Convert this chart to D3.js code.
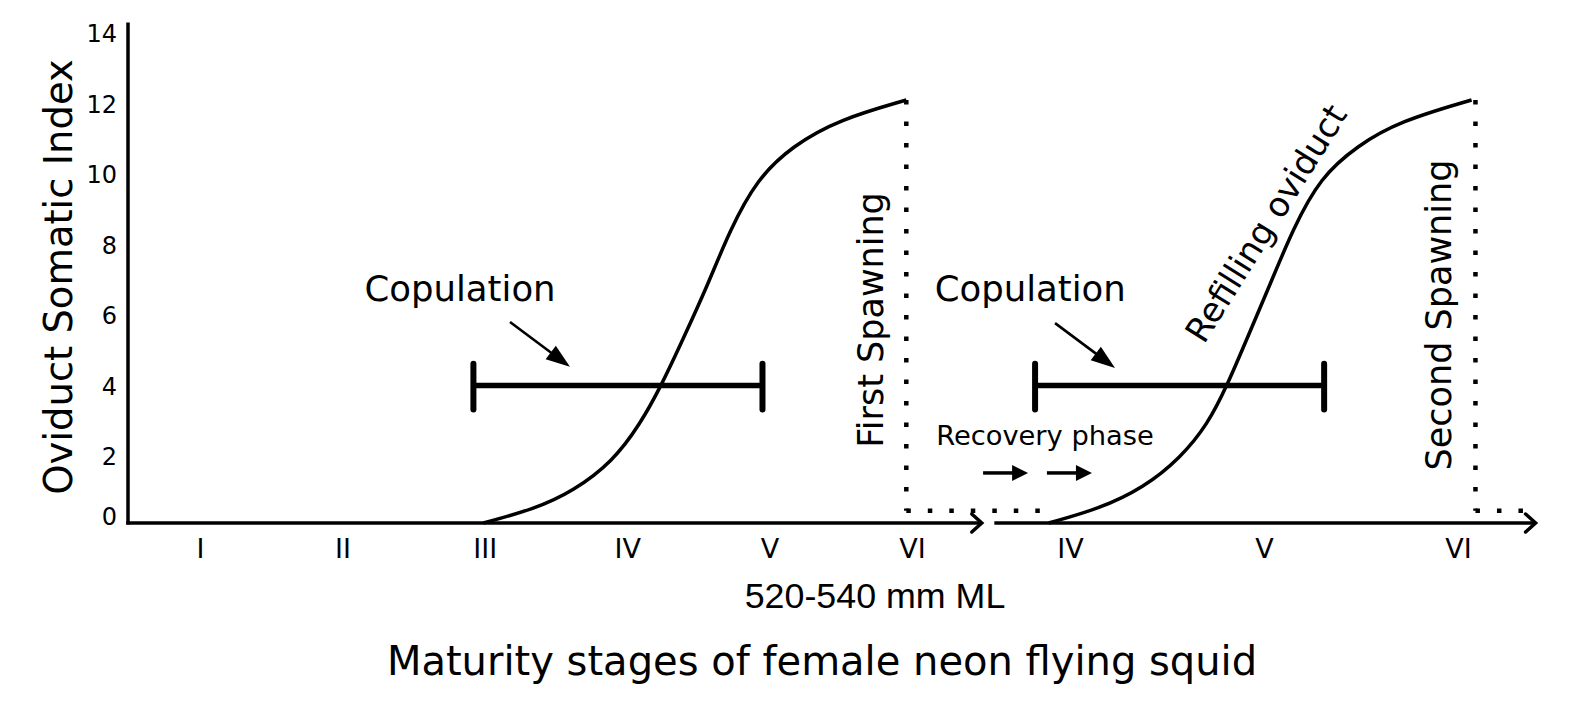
<!DOCTYPE html>
<html>
<head>
<meta charset="utf-8">
<script src="https://cdn.jsdelivr.net/npm/d3@7"></script>
<style>
  body { margin: 0; background: #fff; }
  svg { display: block; font-family: 'DejaVu Sans', Verdana, sans-serif; }
</style>
</head>
<body>
<svg id="chart" width="1575" height="704"></svg>
<script>
// Oviduct Somatic Index through the maturity stages, two spawning cycles

const stagesFirst = ['I', 'II', 'III', 'IV', 'V', 'VI'];
const stagesSecond = ['IV', 'V', 'VI'];
const yTicks = [0, 2, 4, 6, 8, 10, 12, 14];

// [stage (I = 1), OSI]
const firstCycle = [
    [2.99, 0], [3.35, 0.4], [3.62, 0.9], [3.9, 1.75], [4.09, 2.8], [4.24, 3.9],
    [4.39, 5.2], [4.56, 6.7], [4.72, 8.3], [4.91, 9.75], [5.16, 10.7], [5.49, 11.45], [5.96, 12.0]
];
const secondCycle = [
    [3.89, 0], [4.15, 0.4], [4.38, 1.0], [4.57, 1.85], [4.71, 2.8], [4.81, 3.9],
    [4.91, 5.2], [5.03, 6.75], [5.15, 8.35], [5.29, 9.8], [5.48, 10.7], [5.7, 11.4], [6.07, 12.0]
];

// copulation window [from stage, to stage] and its OSI level
const copulationFirst = [2.92, 4.95];
const copulationSecond = [3.82, 5.31];
const copulationOSI = 3.9;

// spawning: stage of the drop, OSI from / to
const spawningFirst = 5.96;
const spawningSecond = 6.09;
const spawningOSI = [12, 0.35];

const svg = d3.select('#chart');

const xFirst = d3.scaleLinear().domain([1, 6]).range([200, 912]);
const xSecond = d3.scaleLinear().domain([4, 6]).range([1070, 1458]);
const y = d3.scaleLinear().domain([0, 14]).range([523, 29.5]);

const stageNum = label => stagesFirst.indexOf(label) + 1;

// ---- axes ----
const yAxisX = 128;

const yAxis = svg.append('g')
    .attr('transform', `translate(${yAxisX},0)`)
    .call(d3.axisLeft(y).tickValues(yTicks).tickSize(0).tickPadding(11));
yAxis.select('.domain').remove();
yAxis.selectAll('text')
    .style('font-size', '24px')
    .style('font-family', "'DejaVu Sans', sans-serif")
    .attr('fill', '#000')
    .attr('dy', d => d === 0 ? '0.08em' : '0.5em');

svg.append('line')
    .attr('x1', yAxisX).attr('x2', yAxisX)
    .attr('y1', y(0) + 1.5).attr('y2', y(14.2))
    .attr('stroke', '#000').attr('stroke-width', 3.5);

const xAxisFirst = svg.append('g')
    .attr('transform', `translate(0,${y(0)})`)
    .call(d3.axisBottom(xFirst).tickValues(stagesFirst.map(stageNum))
        .tickFormat(d => stagesFirst[d - 1]).tickSize(0).tickPadding(16));
const xAxisSecond = svg.append('g')
    .attr('transform', `translate(0,${y(0)})`)
    .call(d3.axisBottom(xSecond).tickValues(stagesSecond.map(stageNum))
        .tickFormat(d => stagesFirst[d - 1]).tickSize(0).tickPadding(16));
[xAxisFirst, xAxisSecond].forEach(g => {
    g.select('.domain').remove();
    g.selectAll('text')
        .style('font-size', '27px')
        .style('font-family', "'DejaVu Sans', sans-serif")
        .attr('fill', '#000');
});

// axis lines with open arrow heads
function axisArrow(x1, x2, yy) {
    svg.append('line')
        .attr('x1', x1).attr('x2', x2 - 1).attr('y1', yy).attr('y2', yy)
        .attr('stroke', '#000').attr('stroke-width', 3.5);
    svg.append('path')
        .attr('d', `M${x2 - 10},${yy - 9}L${x2},${yy}L${x2 - 10},${yy + 9}`)
        .attr('fill', 'none').attr('stroke', '#000').attr('stroke-width', 3.5)
        .attr('stroke-linecap', 'round').attr('stroke-linejoin', 'miter');
}
axisArrow(yAxisX - 1.75, xFirst(6.49), y(0));
axisArrow(xSecond(3.61), xSecond(6.4), y(0));

// ---- curves ----
const lineFirst = d3.line().x(d => xFirst(d[0])).y(d => y(d[1])).curve(d3.curveBasis);
const lineSecond = d3.line().x(d => xSecond(d[0])).y(d => y(d[1])).curve(d3.curveBasis);

svg.append('path').datum(firstCycle).attr('d', lineFirst)
    .attr('fill', 'none').attr('stroke', '#000').attr('stroke-width', 3.5);
svg.append('path').datum(secondCycle).attr('d', lineSecond)
    .attr('fill', 'none').attr('stroke', '#000').attr('stroke-width', 3.5);

// ---- copulation bars ----
function copulationBar(x, range) {
    const g = svg.append('g').attr('stroke', '#000');
    g.append('line')
        .attr('x1', x(range[0])).attr('x2', x(range[1]))
        .attr('y1', y(copulationOSI)).attr('y2', y(copulationOSI))
        .attr('stroke-width', 5.5);
    range.forEach(s => {
        g.append('line')
            .attr('x1', x(s)).attr('x2', x(s))
            .attr('y1', y(copulationOSI + 0.62)).attr('y2', y(copulationOSI - 0.68))
            .attr('stroke-width', 6).attr('stroke-linecap', 'round');
    });
}
copulationBar(xFirst, copulationFirst);
copulationBar(xSecond, copulationSecond);

// ---- spawning drops (dotted) ----
function dotted(x1, y1, x2, y2) {
    svg.append('line')
        .attr('x1', x1).attr('y1', y1).attr('x2', x2).attr('y2', y2)
        .attr('stroke', '#000').attr('stroke-width', 4.5)
        .attr('stroke-dasharray', '4.5 17');
}
dotted(xFirst(spawningFirst), y(spawningOSI[0]), xFirst(spawningFirst), y(spawningOSI[1]));
dotted(xFirst(spawningFirst), y(spawningOSI[1]), xSecond(3.91), y(spawningOSI[1]));
dotted(xSecond(spawningSecond), y(spawningOSI[0]), xSecond(spawningSecond), y(spawningOSI[1]));
dotted(xSecond(spawningSecond), y(spawningOSI[1]), xSecond(6.39), y(spawningOSI[1]));

// ---- arrows with filled heads ----
function arrow(x1, y1, x2, y2, headLen, headW, width) {
    const a = Math.atan2(y2 - y1, x2 - x1);
    const bx = x2 - headLen * Math.cos(a), by = y2 - headLen * Math.sin(a);
    const px = Math.sin(a) * headW / 2, py = -Math.cos(a) * headW / 2;
    svg.append('line')
        .attr('x1', x1).attr('y1', y1).attr('x2', bx + Math.cos(a)).attr('y2', by + Math.sin(a))
        .attr('stroke', '#000').attr('stroke-width', width);
    svg.append('path')
        .attr('d', `M${x2},${y2}L${bx + px},${by + py}L${bx - px},${by - py}Z`)
        .attr('fill', '#000');
}
arrow(xFirst(3.177), y(5.70), xFirst(3.598), y(4.43), 24, 17, 2.6);
arrow(xSecond(3.923), y(5.67), xSecond(4.232), y(4.40), 24, 17, 2.6);
arrow(xSecond(3.552), y(1.42), xSecond(3.784), y(1.42), 16, 16, 3.5);
arrow(xSecond(3.881), y(1.42), xSecond(4.113), y(1.42), 16, 16, 3.5);

// ---- annotations ----
function label(text, x, yy, size, rotate, extra) {
    const t = svg.append('text')
        .attr('transform', `translate(${x},${yy}) rotate(${rotate || 0})`)
        .attr('text-anchor', 'middle')
        .style('font-size', size + 'px')
        .attr('fill', '#000')
        .text(text);
    if (extra) extra(t);
    return t;
}
label('Copulation', xFirst(2.826), y(6.30), 35.5);
label('Copulation', xSecond(3.795), y(6.30), 35.5);
label('First Spawning', xFirst(5.796), y(5.76), 35, -90);
label('Second Spawning', xSecond(5.964), y(5.9), 35, -90);
label('Refilling oviduct', xSecond(5.01), y(8.5), 34, -58, t => t.attr('dy', '0.35em'));
label('Recovery phase', xSecond(3.871), y(2.21), 27.3);

// ---- titles ----
label('Oviduct Somatic Index', 72, 277, 38.5, -90);
label('520-540 mm ML', 875, 608, 35.8, 0, t => t.style('font-family', "'Liberation Sans', Arial, sans-serif"));
label('Maturity stages of female neon flying squid', 822, 675, 40);
</script>
</body>
</html>
